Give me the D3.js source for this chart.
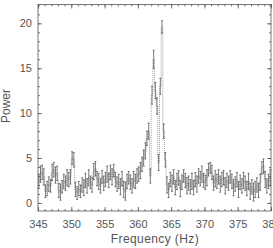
<!DOCTYPE html>
<html>
<head>
<meta charset="utf-8">
<script src="https://cdn.jsdelivr.net/npm/d3@7"></script>
<style>
  body { margin: 0; background: #fff; }
  svg { display: block; }
  text { font-family: "Liberation Sans", "DejaVu Sans", sans-serif; fill: #555; }
</style>
</head>
<body>
<div id="chart"></div>
<script>
// power spectrum, 0.25 Hz bins starting at 345 Hz
var binStart = 345, binWidth = 0.25;
var power = [
  2.4, 3.2, 3.4, 2.9,  1.3, 1.6, 2.1, 1.9,  3.4, 3.7, 3.1, 3.3,
  1.4, 1.2, 1.8, 2.4,  2.2, 2.8, 2.6, 2.9,  5.0, 4.8, 1.5, 1.1,
  1.6, 1.3, 2.0, 1.7,  2.5, 1.9, 2.8, 2.3,  2.0, 3.5, 3.8, 2.7,
  2.4, 1.9, 2.9, 2.2,  2.6, 3.2, 2.5, 3.4,  2.9, 3.6, 2.6, 2.1,
  2.4, 1.8, 2.7, 1.5,  1.3, 2.4, 2.8, 2.3,  1.9, 2.6, 2.4, 3.0,
  3.2, 3.6, 4.3, 5.0,  5.8, 7.2, 8.0, 3.0,  12.0, 16.0, 12.5, 10.8,
  4.5, 13.0, 19.6, 8.0,  4.8, 2.0, 1.4, 2.6,  2.2, 2.9, 1.7, 2.4,
  2.8, 1.6, 2.3, 3.0,  2.5, 1.9, 2.2, 1.8,  2.4, 1.7, 2.6, 2.1,
  3.0, 2.7, 3.2, 2.5,  2.3, 2.8, 3.7, 3.9,  3.4, 2.2, 2.7, 2.4,
  2.9, 2.1, 2.6, 2.8,  1.9, 2.5, 2.2, 2.9,  2.4, 1.7, 2.1, 2.6,
  1.5, 2.3, 1.9, 2.5,  2.2, 1.6, 2.4, 1.3,  1.8, 1.2, 1.5, 2.0,
  1.4, 2.3, 3.9, 4.1,  2.6, 1.9, 2.4, 2.8
];
var errs = [
  0.8, 0.9, 0.8, 0.9,  0.7, 0.8, 0.8, 0.7,  0.9, 0.8, 0.9, 0.8,
  0.8, 0.9, 0.7, 0.8,  0.8, 0.9, 0.8, 0.8,  0.7, 0.8, 0.8, 0.7,
  0.8, 0.7, 0.8, 0.9,  0.8, 0.8, 0.9, 0.7,  0.8, 0.9, 0.8, 0.8,
  0.9, 0.8, 0.7, 0.8,  0.8, 0.9, 0.8, 0.8,  0.9, 0.7, 0.8, 0.8,
  0.8, 0.9, 0.8, 0.9,  1.0, 0.8, 0.7, 0.8,  0.8, 0.9, 0.8, 0.8,
  0.8, 0.9, 0.8, 0.9,  0.9, 0.8, 0.9, 0.8,  1.0, 1.0, 0.9, 0.9,
  0.9, 0.9, 0.7, 0.8,  0.8, 0.9, 0.8, 0.8,  0.9, 0.8, 0.8, 0.9,
  0.8, 0.9, 0.8, 0.7,  0.8, 0.9, 0.8, 0.8,  0.9, 0.8, 0.8, 0.9,
  0.8, 0.8, 0.9, 0.8,  0.8, 0.9, 0.7, 0.6,  0.8, 0.8, 0.9, 0.8,
  0.8, 0.9, 0.8, 0.8,  0.9, 0.8, 0.8, 0.7,  0.8, 0.9, 0.8, 0.8,
  0.9, 0.8, 0.8, 0.9,  0.8, 0.8, 0.9, 0.9,  0.8, 1.0, 0.9, 0.8,
  0.8, 0.9, 0.7, 0.8,  0.9, 0.8, 0.8, 0.9
];
var xMajor = [345, 350, 355, 360, 365, 370, 375, 380];
var yMajor = [0, 5, 10, 15, 20];

var W = 273, H = 248;
// plot box edges ("top" is taken by window.top, so pL/pR/pT/pB)
var pL = 38, pR = 271, pT = 4.5, pB = 211;

var x = d3.scaleLinear().domain([345, 380]).range([pL, pR]);
var y = d3.scaleLinear().domain([-0.9, 22.1]).range([pB, pT]);

var svg = d3.select("#chart").append("svg")
    .attr("width", W)
    .attr("height", H);

var plot = svg.append("g");

// step line
var stepPts = [];
power.forEach(function(p, i) {
  stepPts.push([binStart + binWidth * i, p]);
  stepPts.push([binStart + binWidth * (i + 1), p]);
});
plot.append("path")
    .datum(stepPts)
    .attr("fill", "none")
    .attr("stroke", "#888")
    .attr("stroke-width", 0.8)
    .attr("stroke-dasharray", "1,1")
    .attr("d", d3.line().x(function(d) { return x(d[0]); }).y(function(d) { return y(d[1]); }));

// error bars
function xc(i) { return x(binStart + binWidth * (i + 0.5)); }
var eb = plot.selectAll(".eb").data(power).enter().append("g").attr("class", "eb");
eb.append("line")
    .attr("x1", function(d, i) { return xc(i); })
    .attr("x2", function(d, i) { return xc(i); })
    .attr("y1", function(d, i) { return y(d - errs[i]); })
    .attr("y2", function(d, i) { return y(d + errs[i]); })
    .attr("stroke", "#444").attr("stroke-width", 0.7);
[-1, 1].forEach(function(s) {
  eb.append("line")
      .attr("x1", function(d, i) { return xc(i) - 1; })
      .attr("x2", function(d, i) { return xc(i) + 1; })
      .attr("y1", function(d, i) { return y(d + s * errs[i]); })
      .attr("y2", function(d, i) { return y(d + s * errs[i]); })
      .attr("stroke", "#444").attr("stroke-width", 0.7);
});

// frame + ticks (IDL style, inward on all sides)
function styleAxis(g) {
  g.select(".domain").remove();
  g.selectAll("line").attr("stroke", "#555").attr("stroke-width", 0.8);
  g.selectAll("text").attr("fill", "#555").style("font-size", "11px");
}
var xMinor = d3.range(345, 381, 1);
var yMinor = d3.range(0, 23, 1);

svg.append("g").attr("transform", "translate(0," + pB + ")")
    .call(d3.axisBottom(x).tickValues(xMinor).tickSize(-2).tickFormat(""))
    .call(styleAxis);
svg.append("g").attr("transform", "translate(0," + pB + ")")
    .call(d3.axisBottom(x).tickValues(xMajor).tickSizeInner(-4).tickSizeOuter(0).tickPadding(9).tickFormat(d3.format("d")))
    .call(styleAxis);
svg.append("g").attr("transform", "translate(0," + pT + ")")
    .call(d3.axisTop(x).tickValues(xMinor).tickSize(-2).tickFormat(""))
    .call(styleAxis);
svg.append("g").attr("transform", "translate(0," + pT + ")")
    .call(d3.axisTop(x).tickValues(xMajor).tickSize(-4).tickFormat(""))
    .call(styleAxis);

svg.append("g").attr("transform", "translate(" + pL + ",0)")
    .call(d3.axisLeft(y).tickValues(yMinor).tickSize(-2).tickFormat(""))
    .call(styleAxis);
svg.append("g").attr("transform", "translate(" + pL + ",0)")
    .call(d3.axisLeft(y).tickValues(yMajor).tickSizeInner(-4).tickSizeOuter(0).tickPadding(6).tickFormat(d3.format("d")))
    .call(styleAxis);
svg.append("g").attr("transform", "translate(" + pR + ",0)")
    .call(d3.axisRight(y).tickValues(yMinor).tickSize(-2).tickFormat(""))
    .call(styleAxis);
svg.append("g").attr("transform", "translate(" + pR + ",0)")
    .call(d3.axisRight(y).tickValues(yMajor).tickSize(-4).tickFormat(""))
    .call(styleAxis);

svg.append("rect")
    .attr("x", pL).attr("y", pT)
    .attr("width", pR - pL).attr("height", pB - pT)
    .attr("fill", "none").attr("stroke", "#555").attr("stroke-width", 0.8);

svg.append("text")
    .attr("x", 155).attr("y", 243)
    .attr("text-anchor", "middle")
    .style("font-size", "12px")
    .style("letter-spacing", "0.4px")
    .text("Frequency (Hz)");

svg.append("text")
    .attr("transform", "translate(10,106) rotate(-90)")
    .attr("text-anchor", "middle")
    .style("font-size", "12px")
    .text("Power");
</script>
</body>
</html>
